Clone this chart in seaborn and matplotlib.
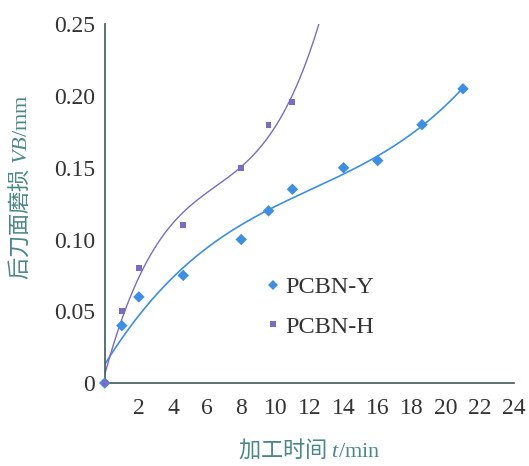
import numpy as np
import pandas as pd
import matplotlib
matplotlib.use("Agg")
import matplotlib.pyplot as plt
import seaborn as sns

# data
t_y = [0, 1, 2, 4.6, 8, 9.6, 11, 14, 16, 18.6, 21]
vb_y = [0, 0.04, 0.06, 0.075, 0.10, 0.12, 0.135, 0.15, 0.155, 0.18, 0.205]
t_h = [0, 1, 2, 4.6, 8, 9.6, 11]
vb_h = [0, 0.05, 0.08, 0.11, 0.15, 0.18, 0.196]
series_names = ["PCBN-Y", "PCBN-H"]
xticks = [2, 4, 6, 8, 10, 12, 14, 16, 18, 20, 22, 24]
yticks = [0, 0.05, 0.10, 0.15, 0.20, 0.25]
ytick_labels = ["0", "0.05", "0.10", "0.15", "0.20", "0.25"]

c_y = "#3d8fe6"
c_h = "#7a6bc6"
axis_col = "#3f5a5a"
label_col = "#4a8888"

sns.set_theme(style="white")
plt.rcParams['font.family'] = ['Liberation Serif', 'Noto Sans CJK SC']
plt.rcParams['mathtext.fontset'] = 'custom'
plt.rcParams['mathtext.rm'] = 'Liberation Serif'
plt.rcParams['mathtext.it'] = 'Liberation Serif:italic'

fig = plt.figure(figsize=(5.29, 4.66), dpi=100)
ax = fig.add_axes([0.198, 0.178, 0.774, 0.77])

df = pd.concat([
    pd.DataFrame({"t": t_y, "vb": vb_y, "s": series_names[0]}),
    pd.DataFrame({"t": t_h, "vb": vb_h, "s": series_names[1]}),
])

# fitted trend curves (cubic polynomial fit of the data)
py = np.polyfit(t_y, vb_y, 3)
ph = np.polyfit(t_h, vb_h, 3)
xy = np.linspace(0, max(t_y), 200)
xh = np.linspace(0, 13, 200)
sns.lineplot(x=xy, y=np.polyval(py, xy), ax=ax, color=c_y, lw=1.2, legend=False)
sns.lineplot(x=xh, y=np.polyval(ph, xh), ax=ax, color=c_h, lw=1.0, legend=False)

sns.scatterplot(data=df, x="t", y="vb", hue="s", style="s", size="s",
                markers={"PCBN-Y": "D", "PCBN-H": "s"},
                palette={"PCBN-Y": c_y, "PCBN-H": c_h},
                sizes={"PCBN-Y": 34, "PCBN-H": 18},
                edgecolor="none", ax=ax, clip_on=False, zorder=5)

ax.set_xlim(0, 24)
ax.set_ylim(0, 0.25)
ax.set_xticks(xticks)
ax.set_yticks(yticks)
ax.set_yticklabels(ytick_labels)
for s in ["top", "right"]:
    ax.spines[s].set_visible(False)
for s in ["left", "bottom"]:
    ax.spines[s].set_color(axis_col)
    ax.spines[s].set_linewidth(1.2)
ax.tick_params(direction="in", length=3, width=1, colors=axis_col,
               labelsize=17, labelcolor="#333333", pad=7)
ax.tick_params(axis="x", pad=11)

cjk = {"family": "Noto Sans CJK SC", "size": 16}
ax.set_xlabel(r"加工时间 $t/\mathrm{min}$", fontdict=cjk, color=label_col)
ax.set_ylabel(r"后刀面磨损 $VB/\mathrm{mm}$", fontdict=cjk, color=label_col)
ax.xaxis.set_label_coords(0.5, -0.15)
ax.yaxis.set_label_coords(-0.178, 0.545)

h, l = ax.get_legend_handles_labels()
leg = ax.legend(h, l, loc="upper left", bbox_to_anchor=(0.37, 0.325), frameon=False,
                fontsize=17.5, handlelength=0.6, handletextpad=0.2, markerscale=0.9,
                labelspacing=0.72, borderaxespad=0)
for t in leg.get_texts():
    t.set_color("#333333")

fig.savefig("out.png", dpi=100)
